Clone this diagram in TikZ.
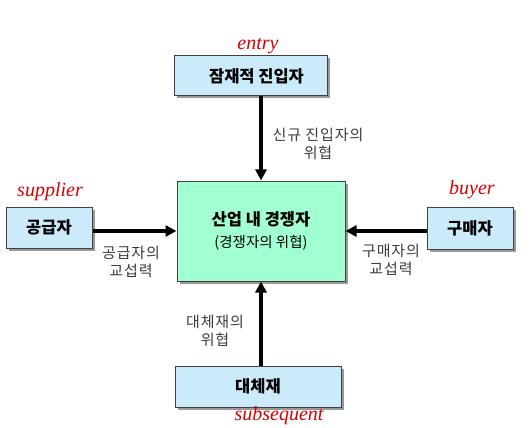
\documentclass[tikz,border=0pt]{standalone}
\usepackage{fontspec}
\setmainfont{Noto Sans CJK KR}
\newfontfamily\notefont{Liberation Serif}
\usetikzlibrary{arrows.meta,positioning,shadows}
\definecolor{boxblue}{HTML}{CCEBFA}
\definecolor{boxgreen}{HTML}{A2FFD2}
\definecolor{labgray}{HTML}{3C3C3C}

\begin{document}
\begin{tikzpicture}[x=1pt, y=-1pt,
  >={Triangle[length=11pt,width=11pt]},
  box/.style={draw=black!75, line width=1pt, fill=boxblue, inner sep=0pt,
    font=\fontsize{16.5}{19}\selectfont\bfseries,
    drop shadow={shadow xshift=2.5pt, shadow yshift=-2.5pt, fill=black!40, opacity=1}},
  lab/.style={align=center, text=labgray,
    font=\fontsize{15}{18}\selectfont\addfontfeature{LetterSpace=6}},
  note/.style={text=red!85!black, font=\notefont\itshape\fontsize{20}{22}\selectfont},
  force/.style={->, line width=3.5pt}]
\useasboundingbox (0,0) rectangle (531,428);
% five forces boxes
\node[box, minimum width=153pt, minimum height=40pt] (T) at (250.5,76) {\hspace{12pt}잠재적 진입자};
\node[box, fill=boxgreen, minimum width=168pt, minimum height=100pt, align=center] (C) at (261,231)
  {산업 내 경쟁자\\[3pt]{\mdseries\fontsize{14.5}{17}\selectfont (경쟁자의 위협)}};
\node[box, minimum width=86pt, minimum height=41pt] (S) at (49,227.5) {공급자};
\node[box, minimum width=86pt, minimum height=42pt] (B) at (470,228.5) {구매자};
\node[box, minimum width=166pt, minimum height=41pt] (Sub) at (258,386.5) {대체재};
% arrows into the industry
\draw[force] (T.south -| C.north) -- (C.north);
\draw[force] (Sub.north -| C.south) -- (C.south);
\draw[force] (S.east |- C.west) -- (C.west);
\draw[force] (B.west |- C.east) -- (C.east);
% arrow labels
\node[lab] (Tl) at (318,143.5) {신규 진입자의\\위협};
\node[lab] (Sl) at (131,261.5) {공급자의\\교섭력};
\node[lab] (Bl) at (391,259.5) {구매자의\\교섭력};
\node[lab] (Subl) at (215,331) {대체재의\\위협};
% handwritten notes
\node[note] (Tn) at (258,46) {entry};
\node[note] (Sn) at (50,192) {supplier};
\node[note] (Bn) at (472,190) {buyer};
\node[note] (Subn) at (279,416) {subsequent};
\end{tikzpicture}
\end{document}
